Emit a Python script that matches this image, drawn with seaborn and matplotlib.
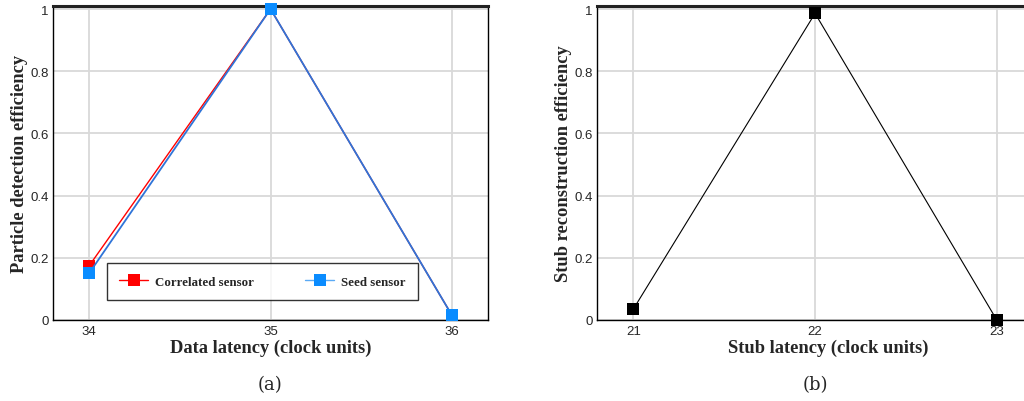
import matplotlib
matplotlib.use("Agg")
import matplotlib.pyplot as plt
import seaborn as sns
import pandas as pd
from matplotlib.lines import Line2D

# data
data_latency = [34, 35, 36]
correlated_eff = [0.175, 1.0, 0.016]
seed_eff = [0.151, 1.0, 0.016]

stub_latency = [21, 22, 23]
stub_eff = [0.035, 0.986, 0.0]

y_ticks = [0, 0.2, 0.4, 0.6, 0.8, 1.0]
y_tick_labels = ["0", "0.2", "0.4", "0.6", "0.8", "1"]

red = "#ff0000"
blue = "#0a8cff"
blue_line = "#2f74d8"

sns.set_style("white")
plt.rcParams["font.family"] = ["Liberation Sans", "DejaVu Sans"]

fig = plt.figure(figsize=(10.24, 4.02), dpi=100)
ax1 = fig.add_axes([0.0518, 0.2015, 0.4248, 0.781])
ax2 = fig.add_axes([0.583, 0.2015, 0.452, 0.781])

df_a = pd.DataFrame({
    "latency": data_latency * 2,
    "eff": correlated_eff + seed_eff,
    "sensor": ["Correlated sensor"] * 3 + ["Seed sensor"] * 3,
})
df_b = pd.DataFrame({"latency": stub_latency, "eff": stub_eff})

sns.lineplot(data=df_a[df_a.sensor == "Correlated sensor"], x="latency", y="eff",
             ax=ax1, color=red, lw=1.0, marker="s", markersize=8,
             markeredgewidth=0, markerfacecolor=red, legend=False, clip_on=False, zorder=4)
sns.lineplot(data=df_a[df_a.sensor == "Seed sensor"], x="latency", y="eff",
             ax=ax1, color=blue_line, lw=1.3, marker="s", markersize=8,
             markeredgewidth=0, markerfacecolor=blue, legend=False, clip_on=False, zorder=5)
sns.lineplot(data=df_b, x="latency", y="eff", ax=ax2, color="black", lw=0.8,
             marker="s", markersize=8, markeredgewidth=0, markerfacecolor="black",
             legend=False, clip_on=False, zorder=4)


def style_axes(ax, xticks, xlim, xlabel, ylabel):
    ax.set_xlim(*xlim)
    ax.set_ylim(0, 1.0096)
    ax.set_xticks(xticks)
    ax.set_xticklabels([str(v) for v in xticks], fontsize=9.5)
    ax.set_yticks(y_ticks)
    ax.set_yticklabels(y_tick_labels, fontsize=9.5)
    ax.set_yticks([v / 20 for v in range(21) if v % 4 != 0], minor=True)
    ax.grid(True, which="major", color="#d9d9d9", lw=1.3)
    ax.set_axisbelow(True)
    ax.tick_params(axis="y", which="both", direction="in", length=6,
                   color="#bbbbbb", pad=3)
    ax.tick_params(axis="x", which="major", length=0, pad=3.5)
    ax.set_xlabel(xlabel, family="Liberation Serif", fontweight="bold",
                  fontsize=13.3, labelpad=1)
    ax.set_ylabel(ylabel, family="Liberation Serif", fontweight="bold",
                  fontsize=13.3, labelpad=2)
    for side in ["left", "right", "bottom"]:
        ax.spines[side].set_color("black")
        ax.spines[side].set_linewidth(1.0)
    ax.spines["top"].set_color("#222222")
    ax.spines["top"].set_linewidth(2.2)


style_axes(ax1, data_latency, (33.80, 36.20), "Data latency (clock units)",
           "Particle detection efficiency")
style_axes(ax2, stub_latency, (20.80, 23.347), "Stub latency (clock units)",
           "Stub reconstruction efficiency")

handles = [
    Line2D([], [], color=red, lw=1.0, marker="s", markersize=9,
           markeredgewidth=0, markerfacecolor=red),
    Line2D([], [], color="#5aaaf5", lw=1.0, marker="s", markersize=9,
           markeredgewidth=0, markerfacecolor=blue),
]
leg = ax1.legend(handles, ["Correlated sensor", "Seed sensor"], ncol=2,
                 loc="lower left", bbox_to_anchor=(0.124, 0.064),
                 frameon=True, fancybox=False, handlelength=2.25,
                 handletextpad=0.5, columnspacing=4.0, borderpad=0.95,
                 borderaxespad=0,
                 prop={"family": "Liberation Serif", "weight": "bold", "size": 9.3})
leg.get_frame().set_edgecolor("black")
leg.get_frame().set_linewidth(1.0)
leg.set_zorder(10)

fig.text(270 / 1024, 1 - 385 / 402, "(a)", ha="center", va="center",
         family="DejaVu Serif", fontsize=13)
fig.text(815 / 1024, 1 - 385 / 402, "(b)", ha="center", va="center",
         family="DejaVu Serif", fontsize=13)

fig.savefig("out.png", dpi=100)
